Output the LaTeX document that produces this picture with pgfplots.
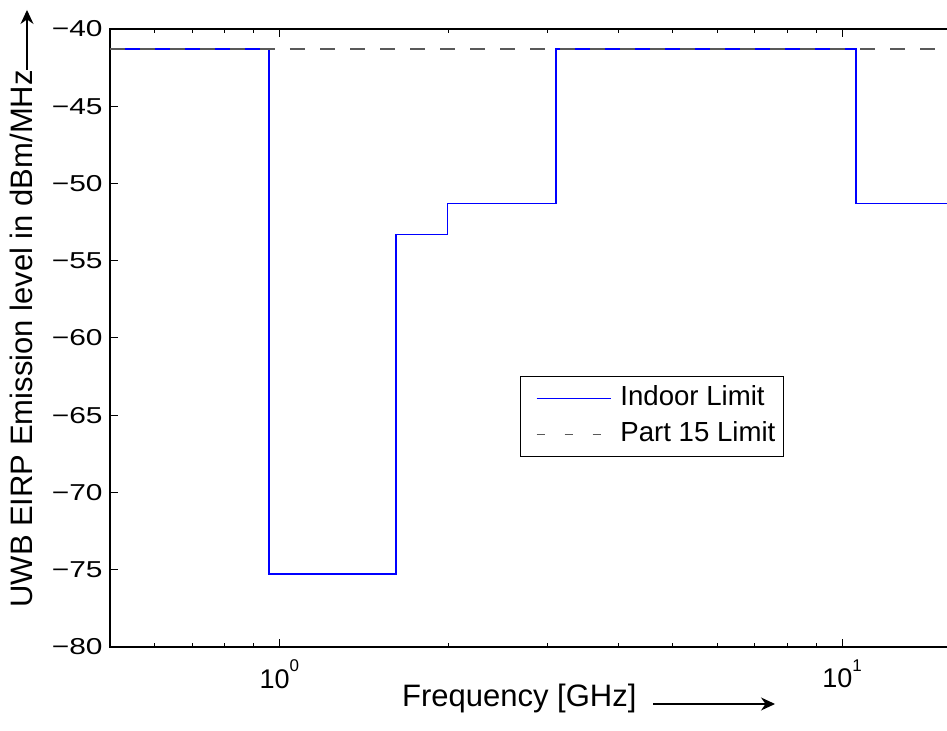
\documentclass[border=0pt]{standalone}
\usepackage{pgfplots}
\pgfplotsset{compat=1.18}
\usepackage{fontspec}
\setmainfont{Liberation Sans}
\newfontfamily\wideticks[FakeStretch=1.3]{Liberation Sans}
\usetikzlibrary{arrows.meta}
\begin{document}
\begin{tikzpicture}
\begin{axis}[
  name=ax,
  scale only axis, width=450.7pt, height=309pt,
  xmode=log, xmin=0.5, xmax=20, ymin=-80, ymax=-40,
  axis line style={line width=0.8pt},
  tick align=inside,
  major tick length=4pt, minor tick length=2pt,
  tick style={line width=0.5pt, black},
  xtick={1,10}, xticklabels={10\raisebox{0.6em}{\fontsize{8.5pt}{8.5pt}\selectfont 0},10\raisebox{0.6em}{\fontsize{8.5pt}{8.5pt}\selectfont 1}},
  minor xtick={0.6,0.7,0.8,0.9,2,3,4,5,6,7,8,9,20},
  ytick={-80,-75,-70,-65,-60,-55,-50,-45,-40},
  yticklabels={−80,−75,−70,−65,−60,−55,−50,−45,−40},
  xticklabel style={anchor=north, inner sep=0pt, yshift=-6.3pt, font=\fontsize{13.5pt}{15pt}\selectfont},
  yticklabel style={anchor=east, inner sep=0pt, xshift=-3.5pt, font=\wideticks\fontsize{11.5pt}{13pt}\selectfont},
  legend style={at={(0.4549,0.4385)}, anchor=north west, draw=black, line width=0.6pt,
    inner xsep=4pt, inner ysep=4.5pt, row sep=5pt,
    font=\fontsize{13.8pt}{13.8pt}\selectfont,
    nodes={inner sep=0pt, text height=10pt, text depth=3pt}},
  legend cell align=left,
]
\addplot[color=blue, line width=0.9pt,
  legend image code/.code={\path (0pt,0pt) (45pt,0pt); \draw[blue, line width=0.8pt] (3.5pt,0pt) -- (40.5pt,0pt);}]
  coordinates {
  (0.5,-41.3) (0.96,-41.3) (0.96,-75.3) (1.61,-75.3) (1.61,-53.3) (1.99,-53.3)
  (1.99,-51.3) (3.1,-51.3) (3.1,-41.3) (10.6,-41.3) (10.6,-51.3) (20,-51.3)};
\addlegendentry{Indoor Limit}
\addplot[color=black!65, line width=0.7pt, dash pattern=on 7.5pt off 7.5pt,
  legend image code/.code={\path (0pt,0pt) (45pt,0pt); \draw[black!65, line width=0.7pt, dash pattern=on 4pt off 10pt] (3.5pt,0pt) -- (40.5pt,0pt);}]
  coordinates {(0.5,-41.3) (20,-41.3)};
\addlegendentry{Part 15 Limit}
\end{axis}
\node[anchor=base west, inner sep=0pt, font=\fontsize{15.5pt}{15.5pt}\selectfont]
  at ([shift={(145.85pt,-29.85pt)}]ax.south west) {Frequency [GHz]};
\draw[line width=0.6pt, -{Stealth[length=7pt,width=6.5pt]}]
  ([shift={(271.5pt,-28.5pt)}]ax.south west) -- ([shift={(332.5pt,-28.5pt)}]ax.south west);
\node[anchor=base west, rotate=90, inner sep=0pt, font=\fontsize{15.5pt}{15.5pt}\selectfont]
  (ylab) at ([shift={(-38.5pt,19.5pt)}]ax.south west) {UWB EIRP Emission level in dBm/MHz};
\coordinate (tip) at ([shift={(-41.5pt,318.5pt)}]ax.south west);
\draw[line width=0.6pt, -{Stealth[length=7pt,width=6.5pt]}]
  ([xshift=-3pt]ylab.base east) -- ([xshift=-3pt]ylab.base east |- tip);
\pgfresetboundingbox
\path ([shift={(-55pt,-42pt)}]ax.south west) rectangle ([shift={(418.5pt,323.5pt)}]ax.south west);
\end{tikzpicture}
\end{document}
